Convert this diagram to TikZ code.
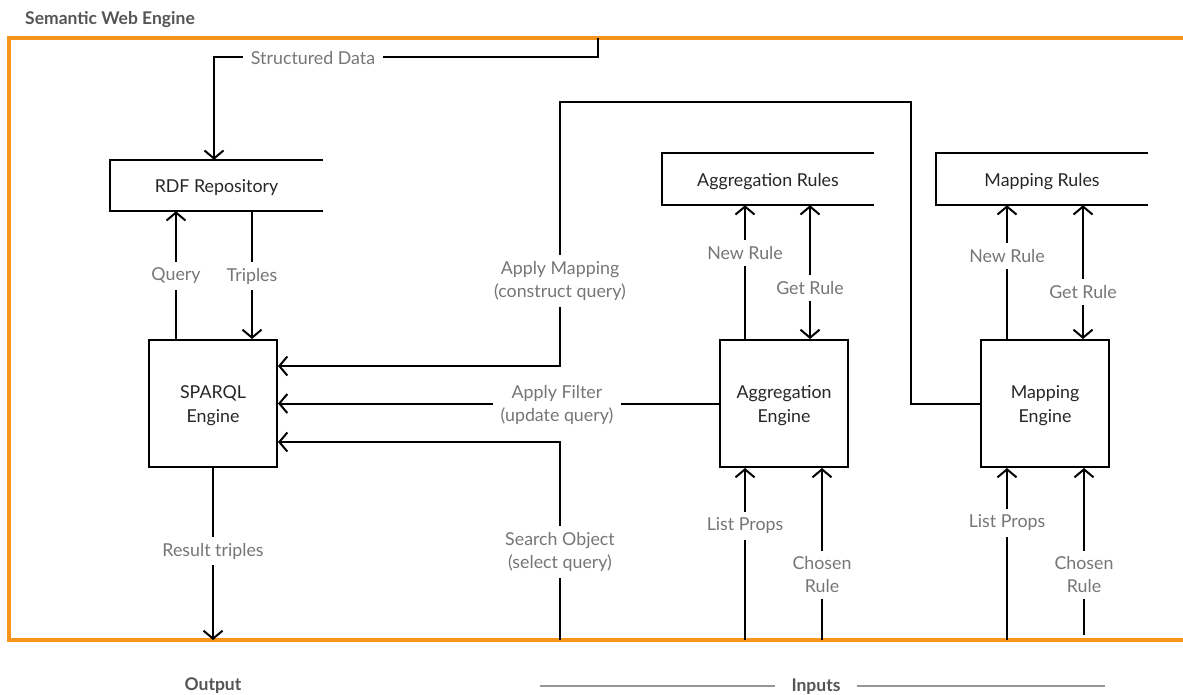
\documentclass[tikz,border=0pt]{standalone}
\usepackage{fontspec}
\setmainfont{Lato}
\usetikzlibrary{arrows.meta}
\definecolor{orng}{RGB}{247,148,30}
\definecolor{lbl}{RGB}{118,118,118}
\definecolor{txt}{RGB}{38,38,38}
\definecolor{ttl}{RGB}{85,85,85}
\definecolor{rul}{RGB}{150,150,150}
\begin{document}
\begin{tikzpicture}[x=1pt,y=-1pt,
  conn/.style={line width=2pt, draw=black},
  arr/.style={conn,-{Straight Barb[length=8pt,width=19pt,line width=2pt]}},
  darr/.style={conn,{Straight Barb[length=8pt,width=19pt,line width=2pt]}-{Straight Barb[length=8pt,width=19pt,line width=2pt]}},
  lab/.style={fill=white, text=lbl, font=\fontsize{17.8}{23}\selectfont, align=center, inner xsep=8pt, inner ysep=6pt},
  engine/.style={draw, line width=2pt, minimum width=128pt, minimum height=127pt, align=center, text=txt, font=\fontsize{17.8}{24}\selectfont},
  store/.style={minimum height=51pt, text=txt, font=\fontsize{17.8}{20}\selectfont, text height=14pt, text depth=-2pt},
  storeline/.style={line width=2pt, draw=black},
  head/.style={text=ttl, font=\bfseries\fontsize{17.5}{20}\selectfont},
]
\useasboundingbox (0,0) rectangle (1183,694);
\clip (0,0) rectangle (1183,694);

% frame
\draw[orng, line width=4pt] (1200,38) -- (9,38) -- (9,640) -- (1200,640);
\node[head, anchor=west, inner sep=0pt] (title) at (25,20) {Semantic Web Engine};

% stores
\node[store, minimum width=213pt] (rdf) at (216.5,185.5) {RDF Repository};
\node[store, minimum width=212pt, minimum height=52pt] (aggr) at (768,179) {Aggregation Rules};
\node[store, minimum width=212pt, minimum height=52pt] (mapr) at (1042,179) {Mapping Rules};
\foreach \s in {rdf,aggr,mapr}{
  \draw[storeline] (\s.north east) -- (\s.north west) -- (\s.south west) -- (\s.south east);
}

% engines
\node[engine] (sparql) at (213,403.5) {\strut SPARQL\\Engine};
\node[engine] (agge) at (784,403.5) {\strut Aggregation\\Engine};
\node[engine] (mape) at (1045,403.5) {\strut Mapping\\Engine};

% free ends on the frame
\coordinate (sd) at (598,38);
\coordinate (out) at (213,640);
\coordinate (so) at (560,640);
\coordinate (lp1) at (745,640);
\coordinate (cr1) at (822,640);
\coordinate (lp2) at (1007,640);
\coordinate (cr2) at (1084,635);

% connectors
\draw[arr] (sd) -- (598,57) -| ([xshift=-2.5pt]rdf.north);
\draw[arr] ([xshift=-37pt]sparql.north) -- ([xshift=-37pt]sparql.north |- rdf.south);
\draw[arr] ([xshift=39pt]sparql.north |- rdf.south) -- ([xshift=39pt]sparql.north);
\draw[arr] (sparql.south) -- (out);
\draw[arr] (mape.west) -- (911,403.5) -- (911,102) -- (560,102) -- (560,366) -- (sparql.east |- 0,366);
\draw[arr] (agge.west) -- (sparql.east);
\draw[arr] (so) -- (560,442) -- (sparql.east |- 0,442);
\draw[arr] ([xshift=-39pt]agge.north) -- ([xshift=-39pt]agge.north |- aggr.south);
\draw[darr] ([xshift=26pt]agge.north |- aggr.south) -- ([xshift=26pt]agge.north);
\draw[arr] (lp1) -- (lp1 |- agge.south);
\draw[arr] (cr1) -- (cr1 |- agge.south);
\draw[arr] ([xshift=-38pt]mape.north) -- ([xshift=-38pt]mape.north |- mapr.south);
\draw[darr] ([xshift=38pt]mape.north |- mapr.south) -- ([xshift=38pt]mape.north);
\draw[arr] (lp2) -- (lp2 |- mape.south);
\draw[arr] (cr2) -- (cr2 |- mape.south);

% labels
\node[lab] (l1) at (313,58) {Structured Data};
\node[lab] (l2) at (176,276) {Query};
\node[lab] (l3) at (252,276) {Triples};
\node[lab] (l4) at (213,551) {Result triples};
\node[lab] (l5) at (560,281) {Apply Mapping\\(construct query)};
\node[lab] (l6) at (557,405) {Apply Filter\\(update query)};
\node[lab] (l7) at (560,552) {Search Object\\(select query)};
\node[lab] (l8) at (745,253) {New Rule};
\node[lab] (l9) at (810,288) {Get Rule};
\node[lab] (l10) at (745,526) {List Props};
\node[lab] (l11) at (822,575) {Chosen\\Rule};
\node[lab] (l12) at (1007,256) {New Rule};
\node[lab] (l13) at (1083,292) {Get Rule};
\node[lab] (l14) at (1007,523) {List Props};
\node[lab] (l15) at (1084,575) {Chosen\\Rule};

% bottom
\node[head] (output) at (213,686) {Output};
\node[head, inner xsep=16pt] (inputs) at (816,687) {Inputs};
\draw[rul, line width=2pt] (540,686) -- (inputs.west |- 0,686);
\draw[rul, line width=2pt] (inputs.east |- 0,686) -- (1105,686);
\end{tikzpicture}
\end{document}
